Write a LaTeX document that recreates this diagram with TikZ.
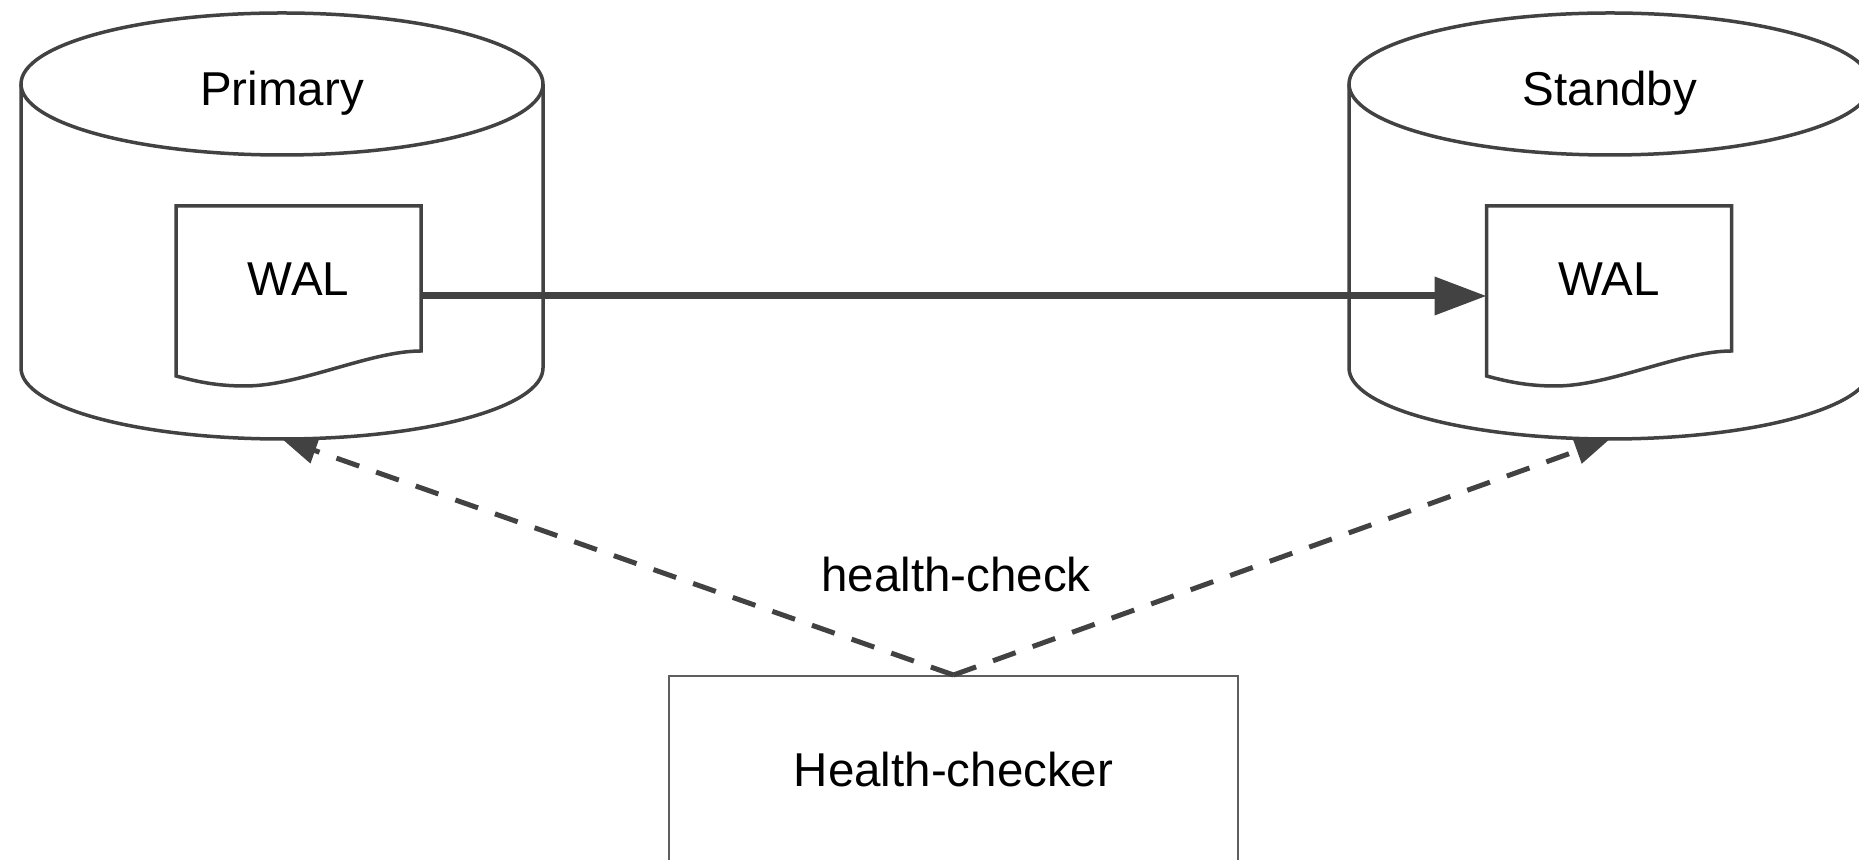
\documentclass[tikz,border=0pt]{standalone}
\usepackage{fontspec}
\setmainfont{Liberation Sans}
\usetikzlibrary{arrows.meta,calc}
\definecolor{ink}{HTML}{424242}

% database drum drawn around an invisible anchor node
\newcommand\drum[1]{%
  \draw[shapeline] ([shift={(-261,142)}]#1.center) -- ([shift={(-261,-142)}]#1.center)
    arc[start angle=180,end angle=360,x radius=261,y radius=71]
    -- ([shift={(261,142)}]#1.center);
  \draw[shapeline] ([shift={(0,142)}]#1.center) ellipse[x radius=261,y radius=71];}

% log sheet with a wavy lower edge
\newcommand\walsheet[1]{%
  \draw[shapeline] (#1.north west) -- (#1.north east)
    -- ([shift={(0,-145)}]#1.north east)
    .. controls ([shift={(194,-145)}]#1.north west) and ([shift={(124,-180)}]#1.north west)
    .. ([shift={(69,-180)}]#1.north west)
    .. controls ([shift={(39,-180)}]#1.north west) and ([shift={(19,-175)}]#1.north west)
    .. ([shift={(0,-170)}]#1.north west) -- cycle;}

\begin{document}
\begin{tikzpicture}[x=1pt,y=1pt,
  shapeline/.style={draw=ink, line width=3.5pt, fill=white},
  txt/.style={font=\fontsize{47.5}{57}\selectfont, text=black, inner sep=0pt},
  holder/.style={rectangle, inner sep=0pt, outer sep=0pt, draw=none},
  feed/.style={draw=ink, line width=7pt, -{Triangle[length=52pt,width=37pt]}},
  probe/.style={draw=ink, line width=5pt, dash pattern=on 24pt off 18pt,
                -{Triangle[length=35pt,width=26pt]}},
  monitor/.style={rectangle, draw=ink!85, line width=2pt, fill=white,
                  minimum width=569pt, minimum height=188pt, inner sep=0pt,
                  font=\fontsize{47.5}{57}\selectfont}]
\clip (0,0) rectangle (1859,859);
\fill[white] (0,0) rectangle (1859,859);

% databases
\node[holder, minimum width=522pt, minimum height=426pt] (cylP) at (282,633) {};
\node[holder, minimum width=522pt, minimum height=426pt] (cylS) at (1610,633) {};
\drum{cylP}
\drum{cylS}
\node[txt, anchor=base] (lblP) at ([yshift=120pt]cylP.center) {Primary};
\node[txt, anchor=base] (lblS) at ([yshift=120pt]cylS.center) {Standby};

% write-ahead logs
\node[holder, minimum width=245pt, minimum height=180pt] (walP) at (298.5,563) {};
\node[holder, minimum width=245pt, minimum height=180pt] (walS) at (1609,563) {};
\walsheet{walP}
\walsheet{walS}
\node[txt, anchor=base] (walPtxt) at (walP.center) {WAL};
\node[txt, anchor=base] (walStxt) at (walS.center) {WAL};

% log shipping
\draw[feed] (walP.east) -- (walS.west);

% health checker
\node[monitor] (hc) at (953.5,89) {Health-checker};
\draw[probe] (hc.north) -- (cylP.south);
\draw[probe] (hc.north) -- (cylS.south);
\node[txt, anchor=base] (hclbl) at ([shift={(2.5,83)}]hc.north) {health-check};
\end{tikzpicture}
\end{document}
